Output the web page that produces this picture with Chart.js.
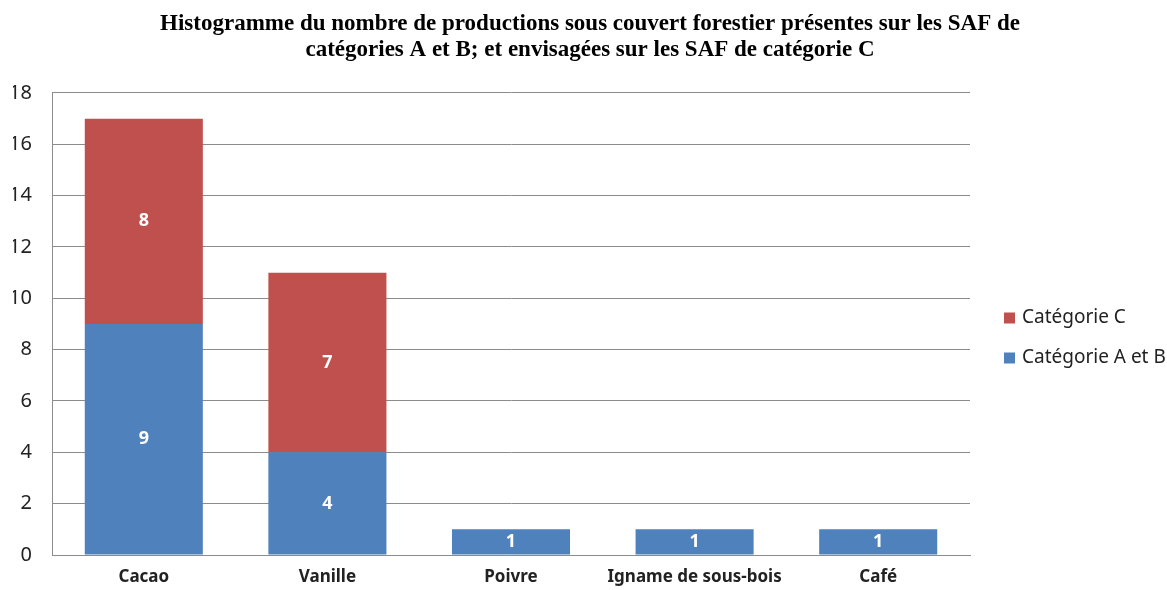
<!DOCTYPE html>
<html lang="fr">
<head>
<meta charset="utf-8">
<title>Productions sous couvert forestier</title>
<script src="https://cdn.jsdelivr.net/npm/chart.js@4.4.1/dist/chart.umd.min.js"></script>
<style>
    body { margin: 0; background: #fff; }
    #wrap { width: 1167px; height: 590px; }
</style>
</head>
<body>
<div id="wrap"><canvas id="chart"></canvas></div>
<script>
// data
const categories = ["Cacao", "Vanille", "Poivre", "Igname de sous-bois", "Café"];
const catAB = [9, 4, 1, 1, 1];
const catC = [8, 7, 0, 0, 0];
const yTicks = [0, 2, 4, 6, 8, 10, 12, 14, 16, 18];

const titleLines = [
    "Histogramme du nombre de productions sous couvert forestier présentes sur les SAF de",
    "catégories A et B; et envisagées sur les SAF de catégorie C"
];

const BLUE = "#4F81BD";
const RED = "#C0504D";
const GRID = "#8c8c8c";

// white numbers in the middle of each bar segment
const barValues = {
    id: "barValues",
    afterDatasetsDraw(chart) {
        const ctx = chart.ctx;
        ctx.save();
        ctx.fillStyle = "#fff";
        ctx.font = "bold 18px 'Noto Sans'";
        ctx.textAlign = "center";
        ctx.textBaseline = "middle";
        chart.data.datasets.forEach((ds, i) => {
            const meta = chart.getDatasetMeta(i);
            meta.data.forEach((bar, j) => {
                const v = ds.data[j];
                if (!v) return;
                const p = bar.getProps(["x", "y", "base"], true);
                ctx.fillText(String(v), p.x, (p.y + p.base) / 2);
            });
        });
        ctx.restore();
    }
};

// legend on the right, last series on top like the original
const sideLegend = {
    id: "sideLegend",
    afterDraw(chart) {
        const ctx = chart.ctx;
        const area = chart.chartArea;
        const items = chart.data.datasets.slice().reverse();
        ctx.save();
        ctx.font = "19px 'Noto Sans'";
        ctx.textBaseline = "middle";
        ctx.textAlign = "left";
        items.forEach((ds, k) => {
            const cy = 318 + k * 40;
            const bx = area.right + 34;
            ctx.fillStyle = ds.backgroundColor;
            ctx.fillRect(bx, cy - 5.5, 11, 11);
            ctx.fillStyle = "#222";
            ctx.fillText(ds.label, bx + 18, cy);
        });
        ctx.restore();
    }
};

new Chart(document.getElementById("chart"), {
    type: "bar",
    data: {
        labels: categories,
        datasets: [
            {
                label: "Catégorie A et B",
                data: catAB,
                backgroundColor: BLUE,
                yAxisID: "y"
            },
            {
                label: "Catégorie C",
                data: catC,
                backgroundColor: RED,
                yAxisID: "y"
            }
        ]
    },
    options: {
        responsive: true,
        maintainAspectRatio: false,
        animation: false,
        layout: { padding: { left: 13, right: 0, top: 0, bottom: 0 } },
        datasets: {
            bar: { categoryPercentage: 1, barPercentage: 0.643 }
        },
        plugins: {
            legend: { display: false },
            tooltip: { enabled: false },
            title: {
                display: true,
                text: titleLines,
                color: "#000",
                font: { family: "'Liberation Serif'", size: 23, weight: "bold", lineHeight: 1.13 },
                padding: { top: 11, bottom: 30 }
            }
        },
        scales: {
            x: {
                stacked: true,
                grid: { display: false },
                border: { color: GRID, width: 1 },
                ticks: {
                    color: "#222",
                    padding: 4,
                    font: { family: "'Noto Sans'", size: 17, weight: "bold" }
                },
                afterFit(s) { s.height = 35; }
            },
            y: {
                stacked: true,
                min: 0,
                max: 18,
                afterBuildTicks(s) { s.ticks = yTicks.map(v => ({ value: v })); },
                grid: { color: GRID, lineWidth: 1, drawTicks: false },
                border: { color: GRID, width: 1 },
                ticks: {
                    color: "#222",
                    padding: 20,
                    font: { family: "'Noto Sans'", size: 20 }
                },
                afterFit(s) { s.width = 39; }
            },
            // empty right-hand axis that only keeps room for the legend
            side: {
                type: "linear",
                position: "right",
                grid: { display: false },
                border: { display: false },
                ticks: { display: false },
                afterFit(s) { s.width = 197; }
            }
        }
    },
    plugins: [barValues, sideLegend]
});
</script>
</body>
</html>
